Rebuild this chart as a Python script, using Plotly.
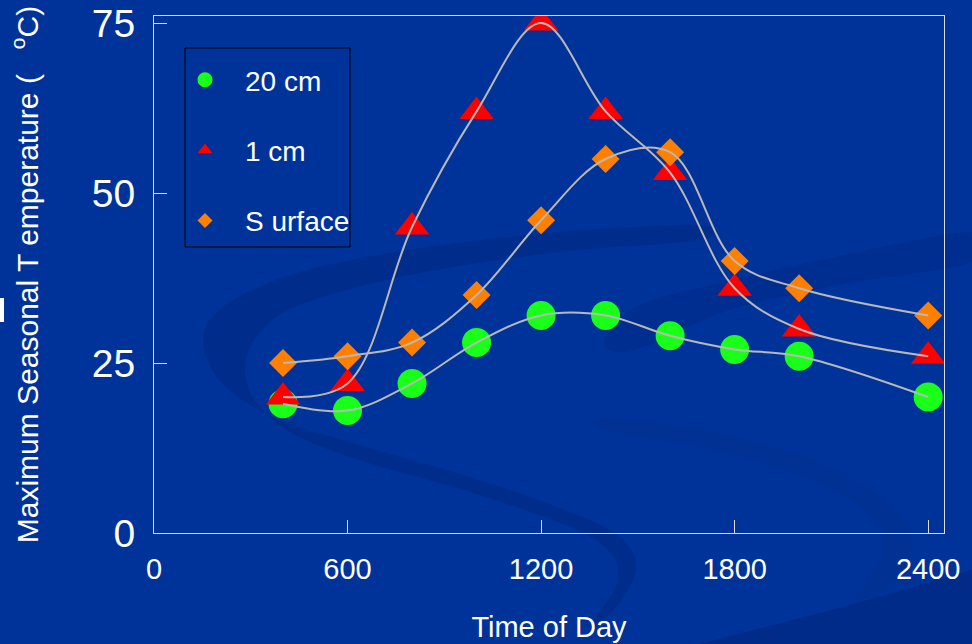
import plotly.graph_objects as go

# Maximum seasonal temperature by time of day, at three depths
time_of_day = [400, 600, 800, 1000, 1200, 1400, 1600, 1800, 2000, 2400]
temp_20cm = [19, 18, 22, 28, 32, 32, 29, 27, 26, 20]
temp_1cm = [20, 22, 45, 62, 75, 62, 53, 36, 30, 26]
temp_surface = [25, 26, 28, 35, 46, 55, 56, 40, 36, 32]

series_names = ["20 cm", "1 cm", "S urface"]
x_ticks = [0, 600, 1200, 1800, 2400]
y_ticks = [0, 25, 50, 75]

BG = "#003399"
FONT = "Liberation Sans, Arial, sans-serif"
LINE_GREY = "#b8b8b8"

# plot-area geometry in pixels (used for the backdrop decoration)
W, H = 972, 644
L, R, T, B = 154, 944, 16, 533


def to_paper(pts):
    return [((x - L) / (R - L), (B - y) / (B - T)) for x, y in pts]


def smooth_closed(pts):
    """Closed Catmull-Rom curve through pixel points, as an SVG path in paper units."""
    p = to_paper(pts)
    n = len(p)
    d = "M%.4f,%.4f" % p[0]
    for i in range(n):
        p0, p1, p2, p3 = p[i - 1], p[i], p[(i + 1) % n], p[(i + 2) % n]
        c1 = (p1[0] + (p2[0] - p0[0]) / 6, p1[1] + (p2[1] - p0[1]) / 6)
        c2 = (p2[0] - (p3[0] - p1[0]) / 6, p2[1] - (p3[1] - p1[1]) / 6)
        d += " C%.4f,%.4f %.4f,%.4f %.4f,%.4f" % (c1 + c2 + p2)
    return d + " Z"


fig = go.Figure()

# markers
fig.add_trace(go.Scatter(x=time_of_day, y=temp_20cm, mode="markers", showlegend=False,
                         marker=dict(symbol="circle", size=29, color="#1aff1a")))
fig.add_trace(go.Scatter(x=time_of_day, y=temp_1cm, mode="markers", showlegend=False,
                         marker=dict(symbol="triangle-up", size=30, color="#ff0000")))
fig.add_trace(go.Scatter(x=time_of_day, y=temp_surface, mode="markers", showlegend=False,
                         marker=dict(symbol="diamond", size=21.5, color="#ff8000")))

# smoothed connecting lines drawn over the markers
for ys in (temp_20cm, temp_1cm, temp_surface):
    fig.add_trace(go.Scatter(x=time_of_day, y=ys, mode="lines", showlegend=False,
                             hoverinfo="skip",
                             line=dict(shape="spline", smoothing=1.0, color=LINE_GREY, width=2)))

# legend entries
legend_styles = [("circle", 15, "#1aff1a"), ("triangle-up", 13, "#ff0000"), ("diamond", 11.5, "#ff8000")]
for i, (name, (sym, sz, col)) in enumerate(zip(series_names, legend_styles)):
    fig.add_trace(go.Scatter(x=[None], y=[None], mode="markers", name=name,
                             legendgroup="g%d" % i,
                             marker=dict(symbol=sym, size=sz, color=col)))

# soft swirls in the backdrop
swirl_a = [(700, 225), (560, 232), (420, 248), (300, 272), (225, 305), (203, 340), (222, 383),
           (275, 418), (360, 445), (470, 477), (560, 508), (618, 535), (636, 565), (622, 600),
           (595, 625), (600, 612), (618, 580), (608, 550), (565, 525), (470, 492), (365, 462),
           (295, 435), (258, 405), (245, 370), (258, 335), (300, 305), (410, 275), (560, 252),
           (700, 240)]
swirl_b = [(605, 338), (640, 305), (720, 283), (830, 258), (972, 232), (972, 262),
           (840, 285), (730, 310), (650, 345), (615, 352)]
swirl_c = [(600, 418), (700, 430), (800, 455), (880, 495), (912, 540), (895, 582), (850, 605),
           (860, 590), (885, 545), (862, 508), (790, 472), (700, 447), (610, 432)]
corner = [(700, 644), (850, 605), (972, 570), (972, 644)]

shapes = []
for pts, col in ((swirl_a, "rgba(0,20,80,0.18)"), (swirl_b, "rgba(0,20,80,0.12)"),
                 (swirl_c, "rgba(0,20,80,0.08)")):
    shapes.append(dict(type="path", xref="paper", yref="paper", path=smooth_closed(pts),
                       fillcolor=col, line=dict(width=0), layer="below"))
cp = to_paper(corner)
shapes.append(dict(type="path", xref="paper", yref="paper",
                   path="M" + " L".join("%.4f,%.4f" % q for q in cp) + " Z",
                   fillcolor="rgba(0,20,80,0.22)", line=dict(width=0), layer="below"))
# small white notch at the left edge
wn = to_paper([(0, 298), (4, 322)])
shapes.append(dict(type="rect", xref="paper", yref="paper", x0=wn[0][0], y0=wn[0][1],
                   x1=wn[1][0], y1=wn[1][1], fillcolor="white", line=dict(width=0), layer="below"))
# legend frame
lf = to_paper([(185, 48), (350, 247)])
shapes.append(dict(type="rect", xref="paper", yref="paper", x0=lf[0][0], y0=lf[0][1],
                   x1=lf[1][0], y1=lf[1][1], fillcolor="rgba(0,0,0,0)",
                   line=dict(color="black", width=1), layer="above"))

axis_common = dict(showline=True, linecolor="#dcdcdc", linewidth=1, mirror=True,
                   ticks="inside", ticklen=13, tickcolor="#dcdcdc", tickwidth=1,
                   showgrid=False, zeroline=False, automargin=False)

fig.update_layout(
    width=W, height=H,
    margin=dict(l=L, r=W - R, t=T, b=H - B, autoexpand=False),
    paper_bgcolor=BG, plot_bgcolor="rgba(0,0,0,0)",
    font=dict(family=FONT, color="white"),
    xaxis=dict(range=[0, 2449], tickvals=x_ticks, ticktext=[str(v) for v in x_ticks],
               tickfont=dict(size=29, color="white"), ticklabelstandoff=10,
               title=dict(text="Time of Day", font=dict(size=29, color="white"), standoff=32),
               **axis_common),
    yaxis=dict(range=[0, 76.03], tickvals=y_ticks, ticktext=[str(v) for v in y_ticks],
               tickfont=dict(size=39, color="white"), ticklabelstandoff=10,
               title=dict(text="Maximum Seasonal T emperature (\u00a0\u00a0\u00a0<sup>o</sup>C)",
                          font=dict(size=30, color="white"), standoff=44),
               **axis_common),
    legend=dict(x=(165 - L) / (R - L), y=(B - 55) / (B - T), xanchor="left", yanchor="top",
                bgcolor="rgba(0,0,0,0)", borderwidth=0,
                font=dict(size=28, color="white", family=FONT),
                traceorder="grouped", tracegroupgap=31, itemwidth=70),
    shapes=shapes,
)

fig.write_html("out.html")
